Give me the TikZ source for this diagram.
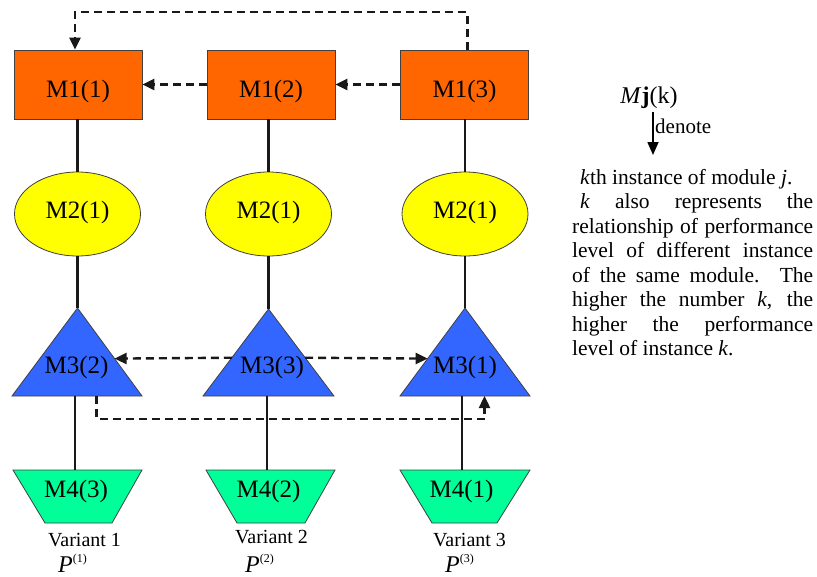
\documentclass[tikz,border=0pt]{standalone}
\usepackage{fontspec}
\setmainfont{Liberation Serif}
\usetikzlibrary{shapes.geometric,arrows.meta,calc}
\definecolor{orM}{HTML}{FF6600}
\definecolor{yeM}{HTML}{FFFF00}
\definecolor{blM}{HTML}{3366FF}
\definecolor{grM}{HTML}{00FF99}
\begin{document}
\begin{tikzpicture}[x=1pt,y=-1pt,
  big/.style={font=\fontsize{25}{30}\selectfont},
  mid/.style={font=\fontsize{20}{24}\selectfont},
  box/.style={rectangle,draw=black!75,line width=0.8pt,fill=orM,minimum width=128pt,minimum height=69pt,inner sep=0pt,big,text height=25pt,text depth=0pt},
  ell/.style={ellipse,draw=black!75,line width=0.8pt,fill=yeM,minimum width=126pt,minimum height=84pt,inner sep=0pt,big,text height=8pt,text depth=0pt},
  tri/.style={draw=black!75,line width=0.8pt,fill=blM},
  trap/.style={draw=black!75,line width=0.8pt,fill=grM},
  lbl/.style={inner sep=0pt,anchor=base,big},
  conn/.style={line width=2.2pt,black!90},
  dsh/.style={line width=2.4pt,black!90,dash pattern=on 8pt off 5pt,-{Triangle[length=12pt,width=11pt]}},
  solidarrow/.style={line width=1.6pt,-{Triangle[length=13pt,width=11pt]}}]
\useasboundingbox (0,0) rectangle (817,576);

% Row 1: boxes
\node[box] (m11) at (78,84.5) {M1(1)};
\node[box] (m12) at (271,84.5) {M1(2)};
\node[box] (m13) at (464.5,84.5) {M1(3)};

% Row 2: ellipses
\node[ell] (m21) at (77.5,214) {M2(1)};
\node[ell] (m22) at (268.5,214) {M2(1)};
\node[ell] (m23) at (465,214) {M2(1)};

% Row 3: triangles
\coordinate (a1) at (77.5,308);  \coordinate (l1) at (12,396);  \coordinate (r1) at (142,396);
\coordinate (a2) at (268.5,309); \coordinate (l2) at (203,396); \coordinate (r2) at (334,396);
\coordinate (a3) at (465,308); \coordinate (l3) at (400,396); \coordinate (r3) at (530,396);
\path[tri] (a1) -- (r1) -- (l1) -- cycle;
\path[tri] (a2) -- (r2) -- (l2) -- cycle;
\path[tri] (a3) -- (r3) -- (l3) -- cycle;
\node[lbl] (t31) at (76.5,373) {M3(2)};
\node[lbl] (t32) at (272,373) {M3(3)};
\node[lbl] (t33) at (465,373) {M3(1)};

% Row 4: trapezia
\coordinate (p1a) at (13,470);  \coordinate (p1b) at (142,470); \coordinate (p1c) at (112,523); \coordinate (p1d) at (45,523);
\coordinate (p2a) at (206,470); \coordinate (p2b) at (335,470); \coordinate (p2c) at (305,523); \coordinate (p2d) at (237,523);
\coordinate (p3a) at (400,470); \coordinate (p3b) at (530,470); \coordinate (p3c) at (497,523); \coordinate (p3d) at (432,523);
\path[trap] (p1a) -- (p1b) -- (p1c) -- (p1d) -- cycle;
\path[trap] (p2a) -- (p2b) -- (p2c) -- (p2d) -- cycle;
\path[trap] (p3a) -- (p3b) -- (p3c) -- (p3d) -- cycle;
\node[lbl] (t41) at (76,497) {M4(3)};
\node[lbl] (t42) at (268.5,497) {M4(2)};
\node[lbl] (t43) at (461.5,497) {M4(1)};

% vertical connectors
\draw[conn] (m11.south -| m21) -- (m21.north);
\draw[conn] (m12.south -| m22) -- (m22.north);
\draw[conn] (m13.south -| m23) -- (m23.north);
\draw[conn] (m21.south) -- (a1);
\draw[conn] (m22.south) -- (a2);
\draw[conn] (m23.south) -- (a3);
\coordinate (b1) at (75,396);  \coordinate (b2) at (267,396);  \coordinate (b3) at (462,396);
\coordinate (q1) at (75,470);  \coordinate (q2) at (267,470);  \coordinate (q3) at (462,470);
\draw[conn] (b1) -- (q1);
\draw[conn] (b2) -- (q2);
\draw[conn] (b3) -- (q3);

% dashed arrows
\coordinate (topbend) at (270,12);
\draw[dsh] ([xshift=3pt]m13.north) |- (topbend) -| ([xshift=-3pt]m11.north);
\draw[dsh] (m12.west) -- (m11.east);
\draw[dsh] (m13.west) -- (m12.east);
\draw[dsh] ($(a2)!0.56!(l2)$) -- ($(a1)!0.575!(r1)$);
\draw[dsh] ($(a2)!0.56!(r2)$) -- ($(a3)!0.575!(l3)$);
\coordinate (botbend) at (300,419);
\draw[dsh] ($(l1)!0.65!(r1)$) |- (botbend) -| ($(l3)!0.65!(r3)$);

% variant labels
\node[mid,inner sep=0pt,anchor=base west] (v1) at (48,546) {Variant 1};
\node[mid,inner sep=0pt,anchor=base west] (v2) at (235,543) {Variant 2};
\node[mid,inner sep=0pt,anchor=base west] (v3) at (433,546) {Variant 3};
\node[inner sep=0pt,anchor=base west,font=\fontsize{24}{28}\selectfont] (pp1) at (58,572) {\textit{P}\raisebox{10pt}{\fontsize{12}{12}\selectfont(1)}};
\node[inner sep=0pt,anchor=base west,font=\fontsize{24}{28}\selectfont] (pp2) at (245,572) {\textit{P}\raisebox{10pt}{\fontsize{12}{12}\selectfont(2)}};
\node[inner sep=0pt,anchor=base west,font=\fontsize{24}{28}\selectfont] (pp3) at (445,572) {\textit{P}\raisebox{10pt}{\fontsize{12}{12}\selectfont(3)}};

% legend
\node[inner sep=0pt,anchor=base,font=\fontsize{24}{28}\selectfont] (mj) at (649,103) {\textit{M}\textbf{j}(k)};
\coordinate (arrend) at (653,155);
\draw[solidarrow] ([yshift=-4pt]mj.south -| arrend) -- (arrend);
\node[inner sep=0pt,anchor=base west,font=\fontsize{21}{24}\selectfont] (den) at (655,133) {denote};
\node[inner sep=0pt,anchor=north west,text width=241pt,align=justify,font=\fontsize{21.5}{24.5}\selectfont] (para) at (572,169)
{\parindent=0pt\hspace*{8pt}\textit{k}th instance of module \textit{j}.\par
\hspace*{8pt}\textit{k} also represents the\linebreak relationship of performance\linebreak level of different instance\linebreak of the same module. The\linebreak higher the number \textit{k}, the\linebreak higher the performance\linebreak level of instance \textit{k}.};
\end{tikzpicture}
\end{document}
